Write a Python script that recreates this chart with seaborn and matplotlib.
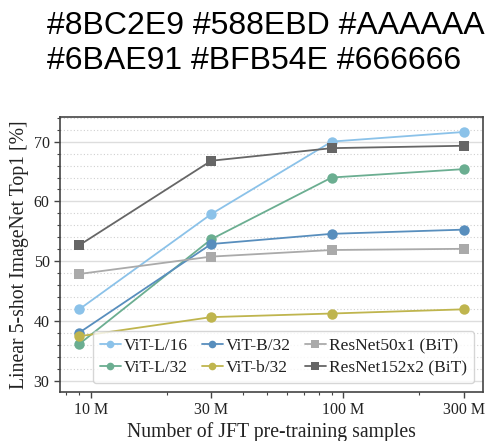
import numpy as np
import pandas as pd
import matplotlib
matplotlib.use("Agg")
import matplotlib.pyplot as plt
import matplotlib.ticker as mticker
from matplotlib.lines import Line2D
import seaborn as sns

# ---- data ----
samples = [9e6, 3e7, 9e7, 3e8]
tick_values = [1e7, 3e7, 1e8, 3e8]
tick_labels = ["10 M", "30 M", "100 M", "300 M"]

models = ["ViT-L/16", "ViT-L/32", "ViT-B/32", "ViT-b/32",
          "ResNet50x1 (BiT)", "ResNet152x2 (BiT)"]
vit_l16 = [42.0, 57.9, 70.0, 71.6]
vit_l32 = [36.2, 53.7, 64.0, 65.4]
vit_b32 = [38.1, 52.9, 54.6, 55.3]
vit_bs32 = [37.5, 40.7, 41.3, 42.0]
resnet50 = [47.9, 50.8, 51.9, 52.1]
resnet152 = [52.7, 66.8, 68.9, 69.3]
values = [vit_l16, vit_l32, vit_b32, vit_bs32, resnet50, resnet152]
colors = ["#8BC2E9", "#6BAE91", "#588EBD", "#BFB54E", "#AAAAAA", "#666666"]
marker_kinds = ["o", "o", "o", "o", "s", "s"]

rows = []
for m, vals in zip(models, values):
    for s, v in zip(samples, vals):
        rows.append({"samples": s, "acc": v, "model": m})
df = pd.DataFrame(rows)

sns.set_style("white")
plt.rcParams["font.family"] = ["Liberation Serif", "DejaVu Serif"]
plt.rcParams["mathtext.fontset"] = "stix"

fig = plt.figure(figsize=(4.86, 4.41), dpi=100)
ax = fig.add_axes([60 / 486, 1 - 392 / 441, (483 - 60) / 486, (392 - 117) / 441])

palette = dict(zip(models, colors))
markers = dict(zip(models, marker_kinds))
sns.lineplot(data=df, x="samples", y="acc", hue="model", style="model",
             hue_order=models, style_order=models, palette=palette,
             markers=markers, dashes=False, markersize=7.5, linewidth=1.3,
             markeredgewidth=0, legend=False, ax=ax, zorder=3)

ax.set_xscale("log")
ax.set_xticks(tick_values)
ax.set_xticklabels(tick_labels)
ax.xaxis.set_minor_locator(mticker.LogLocator(base=10, subs=np.arange(2, 10)))
ax.xaxis.set_minor_formatter(mticker.NullFormatter())
ax.set_ylim(28.2, 74.1)
ax.set_yticks([30, 40, 50, 60, 70])
ax.yaxis.set_minor_locator(mticker.MultipleLocator(2))

ax.grid(False)
ax.yaxis.grid(True, which="major", color="#dddddd", linewidth=1.0, linestyle="-")
ax.yaxis.grid(True, which="minor", color="#d0d0d0", linewidth=0.8, linestyle=(0, (1, 2)))
ax.set_axisbelow(True)

for sp in ax.spines.values():
    sp.set_color("#444444")
    sp.set_linewidth(1.2)

ax.tick_params(axis="both", which="major", direction="out", length=4, width=1,
               color="#444444", labelsize=11.5, labelcolor="#222222", bottom=True, left=True)
ax.tick_params(axis="both", which="minor", direction="out", length=2.5, width=0.8,
               color="#444444", bottom=True, left=True)

ax.set_xlabel("Number of JFT pre-training samples", fontsize=14.2, color="#222222", labelpad=3)
ax.set_ylabel("Linear 5-shot ImageNet Top1 [%]", fontsize=14.2, color="#222222", labelpad=3)

handles = [Line2D([0], [0], color=c, marker=mk, markersize=5.5, linewidth=1.3,
                  markeredgewidth=0) for c, mk in zip(colors, marker_kinds)]
leg = ax.legend(handles, models, loc="lower right", ncol=3, fontsize=12.5,
                handlelength=1.2, handletextpad=0.2, columnspacing=0.8,
                borderpad=0.4, labelspacing=0.35, frameon=True, fancybox=True,
                framealpha=0.8, edgecolor="#cccccc")
for t in leg.get_texts():
    t.set_color("#222222")

fig.text(47 / 486, 1 - 11 / 441, "#8BC2E9 #588EBD #AAAAAA\n#6BAE91 #BFB54E #666666",
         ha="left", va="top", fontsize=23, family=["Liberation Sans", "DejaVu Sans"],
         color="black", linespacing=1.2)

fig.savefig("out.png", dpi=100)
